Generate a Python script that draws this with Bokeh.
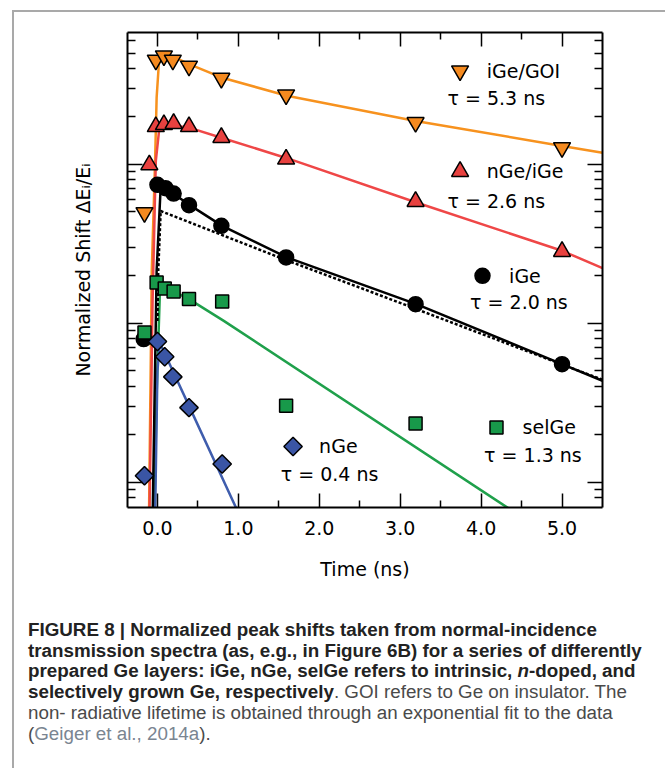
import numpy as np
from bokeh.plotting import figure
from bokeh.models import (FixedTicker, LinearAxis, LogAxis, Range1d,
                          CustomJSTickFormatter, PrintfTickFormatter, Div)
from bokeh.layouts import column
from bokeh.embed import file_html
from bokeh.resources import INLINE
from bokeh.core.properties import value

# ---------------- data ----------------
# iGe/GOI (orange, inverted triangles)
goi_t = [-0.16, -0.02, 0.08, 0.19, 0.39, 0.79, 1.59, 3.19, 5.0]
goi_v = [0.496, 4.51, 4.80, 4.51, 4.14, 3.47, 2.73, 1.83, 1.27]
goi_fit_t = [-0.105, -0.07, -0.03, -0.01, 0.02, 0.06, 0.2, 0.39, 0.79, 1.6, 3.19, 5.0, 5.5]
goi_fit_v = [0.0057, 0.213, 1.0, 2.62, 4.47, 5.08, 4.73, 4.26, 3.51, 2.69, 1.87, 1.30, 1.18]

# nGe/iGe (red, triangles)
ngi_t = [-0.10, -0.02, 0.08, 0.20, 0.39, 0.79, 1.59, 3.19, 5.0]
ngi_v = [0.99, 1.72, 1.77, 1.80, 1.72, 1.47, 1.075, 0.582, 0.282]
ngi_fit_t = [-0.10, -0.06, -0.02, 0.02, 0.1, 0.4, 0.8, 1.6, 3.2, 5.0, 5.5]
ngi_fit_v = [0.0057, 0.138, 1.05, 1.62, 1.79, 1.69, 1.46, 1.09, 0.574, 0.285, 0.222]

# iGe (black, circles)
ige_t = [-0.17, 0.0, 0.1, 0.2, 0.39, 0.79, 1.59, 3.19, 5.0]
ige_v = [0.0793, 0.741, 0.706, 0.653, 0.552, 0.409, 0.259, 0.1316, 0.0552]
ige_fit_t = [-0.06, -0.01, 0.04, 0.1, 0.2, 0.4, 0.8, 1.6, 3.2, 5.0, 5.5]
ige_fit_v = [0.0057, 0.213, 0.715, 0.70, 0.651, 0.552, 0.409, 0.259, 0.1316, 0.0552, 0.0434]
ige_mono_t = [0.0, 0.01, 0.04, 1.6, 2.6, 5.5]
ige_mono_v = [0.103, 0.213, 0.507, 0.248, 0.160, 0.0440]

# selGe (green, squares)
sel_t = [-0.16, -0.01, 0.09, 0.2, 0.39, 0.8, 1.59, 3.19]
sel_v = [0.0873, 0.180, 0.165, 0.158, 0.1416, 0.1368, 0.0302, 0.0234]
sel_fit_t = [-0.04, -0.01, 0.03, 0.06, 0.39, 0.82, 4.45]
sel_fit_v = [0.0057, 0.0359, 0.1545, 0.1718, 0.1416, 0.1033, 0.00627]

# nGe (blue, diamonds)
nge_t = [-0.16, 0.0, 0.09, 0.19, 0.39, 0.8]
nge_v = [0.01096, 0.0766, 0.0614, 0.0459, 0.0294, 0.0130]
nge_fit_t = [-0.03, 0.0, 0.03, 0.4, 1.0]
nge_fit_v = [0.0057, 0.0501, 0.075, 0.0294, 0.00641]

x_major = [0, 1, 2, 3, 4, 5]
x_minor = [0.5, 1.5, 2.5, 3.5, 4.5]
y_major = [0.01, 0.1, 1]
y_minor = [0.008, 0.009, 0.02, 0.03, 0.04, 0.05, 0.06, 0.07, 0.08, 0.09,
           0.2, 0.3, 0.4, 0.5, 0.6, 0.7, 0.8, 0.9, 2, 3, 4, 5, 6]

# legend annotations (labels and positions in data space)
leg_names = ["iGe/GOI", "nGe/iGe", "iGe", "selGe", "nGe"]
leg_tau = ["τ = 5.3 ns", "τ = 2.6 ns", "τ = 2.0 ns", "τ = 1.3 ns", "τ = 0.4 ns"]
leg_mark_t = [3.74, 3.74, 4.017, 4.19, 1.676]
leg_mark_v = [3.86, 0.899, 0.1984, 0.02205, 0.01675]
leg_text_t = [4.07, 4.07, 4.346, 4.512, 1.998]
leg_tau_t = [3.585, 3.585, 3.864, 4.037, 1.524]
leg_tau_v = [2.62, 0.588, 0.1348, 0.01485, 0.01132]

# ---------------- styles ----------------
FONT = "DejaVu Sans"
C_OR, C_OR_L = "#F58A1F", "#F7921E"
C_RD, C_RD_L = "#E8413F", "#EF4747"
C_BK = "#000000"
C_GR, C_GR_L = "#18994A", "#1FA04B"
C_BL, C_BL_L = "#3A55A5", "#3F5DAD"

p = figure(frame_width=475, frame_height=475,
           x_range=Range1d(-0.37, 5.5), y_range=Range1d(0.00692, 6.73),
           y_axis_type="log", output_backend="svg", toolbar_location=None,
           min_border_left=113, min_border_right=60, min_border_top=20,
           min_border_bottom=103, background_fill_color="white",
           border_fill_color="white")
p.grid.visible = False
p.outline_line_color = None

empty = CustomJSTickFormatter(code="return ''")


def style_axis(ax, maj, mnr):
    ax.axis_line_width = 2
    ax.axis_line_color = "black"
    ax.major_tick_in = maj
    ax.major_tick_out = 0
    ax.minor_tick_in = mnr
    ax.minor_tick_out = 0
    ax.major_tick_line_width = 1.5
    ax.minor_tick_line_width = 1.5
    ax.major_tick_line_color = "black"
    ax.minor_tick_line_color = "black"
    ax.major_label_text_font = FONT
    ax.major_label_text_font_size = "19px"
    ax.major_label_text_color = "black"
    ax.axis_label_text_font = FONT
    ax.axis_label_text_font_size = "19px"
    ax.axis_label_text_font_style = "normal"
    ax.axis_label_text_color = "black"


xt = FixedTicker(ticks=x_major, minor_ticks=x_minor)
yt = FixedTicker(ticks=y_major, minor_ticks=y_minor)

xa = p.xaxis[0]
xa.ticker = xt
xa.formatter = PrintfTickFormatter(format="%.1f")
style_axis(xa, 14, 7)
xa.major_label_standoff = 13
xa.axis_label = "Time (ns)"
xa.axis_label_standoff = 20

ya = p.yaxis[0]
ya.ticker = yt
ya.formatter = empty
style_axis(ya, 15, 8)
ya.major_label_standoff = 0
ya.axis_label = "Normalized Shift ΔEᵢ/Eᵢ"
ya.axis_label_standoff = 34

top = LinearAxis(ticker=xt, formatter=empty)
style_axis(top, 14, 7)
top.major_label_standoff = 0
p.add_layout(top, "above")

right = LogAxis(ticker=yt, formatter=empty)
style_axis(right, 15, 8)
right.major_label_standoff = 0
p.add_layout(right, "right")

# fit curves
LW = 2.5
p.line(goi_fit_t, goi_fit_v, line_color=C_OR_L, line_width=LW)
p.line(ngi_fit_t, ngi_fit_v, line_color=C_RD_L, line_width=LW)
p.line(sel_fit_t, sel_fit_v, line_color=C_GR_L, line_width=LW)
p.line(nge_fit_t, nge_fit_v, line_color=C_BL_L, line_width=LW)
p.line(ige_mono_t, ige_mono_v, line_color=C_BK, line_width=2.5, line_dash="3 2")
p.line(ige_fit_t, ige_fit_v, line_color=C_BK, line_width=LW)

# data points
MK = dict(line_color="black", line_width=1.5)
DIA = 13
p.scatter(ige_t, ige_v, marker="circle", size=15, fill_color=C_BK, **MK)
p.scatter(sel_t, sel_v, marker="square", size=13, fill_color=C_GR, **MK)
p.scatter(nge_t, nge_v, marker="square", angle=np.pi / 4, size=DIA, fill_color=C_BL, **MK)
p.scatter(ngi_t, ngi_v, marker="triangle", size=17, fill_color=C_RD, **MK)
p.scatter(goi_t, goi_v, marker="inverted_triangle", size=17, fill_color=C_OR, **MK)

# legend markers
p.scatter([leg_mark_t[0]], [leg_mark_v[0]], marker="inverted_triangle", size=17, fill_color=C_OR, **MK)
p.scatter([leg_mark_t[1]], [leg_mark_v[1]], marker="triangle", size=17, fill_color=C_RD, **MK)
p.scatter([leg_mark_t[2]], [leg_mark_v[2]], marker="circle", size=15, fill_color=C_BK, **MK)
p.scatter([leg_mark_t[3]], [leg_mark_v[3]], marker="square", size=13, fill_color=C_GR, **MK)
p.scatter([leg_mark_t[4]], [leg_mark_v[4]], marker="square", angle=np.pi / 4, size=DIA, fill_color=C_BL, **MK)

TXT = dict(text_font=value(FONT), text_font_size="19px", text_baseline="middle",
           text_align="left", text_color="black")
p.text(leg_text_t, leg_mark_v, text=leg_names, **TXT)
p.text(leg_tau_t, leg_tau_v, text=leg_tau, **TXT)

caption_html = (
    "<b>FIGURE 8 | Normalized peak shifts taken from normal-incidence<br>"
    "transmission spectra (as, e.g., in Figure 6B) for a series of differently<br>"
    "prepared Ge layers: iGe, nGe, selGe refers to intrinsic, <i>n</i>-doped, and<br>"
    "selectively grown Ge, respectively</b>"
    "<span style='color:#4a4a4a'>. GOI refers to Ge on insulator. The<br>"
    "non- radiative lifetime is obtained through an exponential fit to the data<br>"
    "(<span style='color:#7a8591'>Geiger et al., 2014a</span>).</span>"
)
caption = Div(text=caption_html, width=648, height=150,
              styles={"font-family": "'Liberation Sans', Arial, sans-serif",
                      "font-size": "18.8px", "line-height": "20.7px",
                      "color": "#222222", "white-space": "nowrap",
                      "padding-left": "9px", "padding-top": "5px"})

layout = column(p, caption, margin=(10, 0, 0, 12),
                styles={"border-left": "2px solid #a9a9a9",
                        "border-top": "2px solid #a9a9a9",
                        "border-right": "2px solid #a9a9a9",
                        "background-color": "white"})

open("out.html", "w").write(file_html(layout, INLINE))
